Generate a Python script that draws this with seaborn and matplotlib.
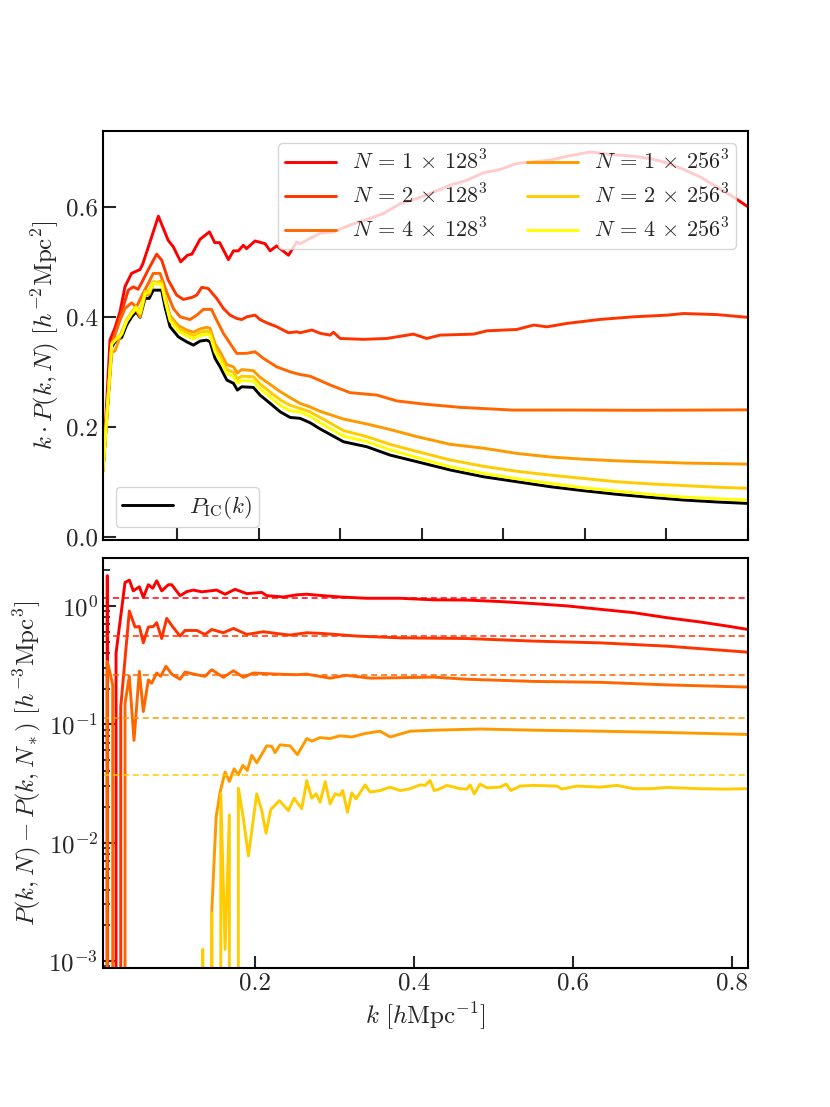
import numpy as np
import pandas as pd
import matplotlib
matplotlib.use("Agg")
import matplotlib.pyplot as plt
import seaborn as sns

sns.set_style("ticks")
plt.rcParams['font.family'] = 'serif'
plt.rcParams['font.serif'] = ['cmr10']
plt.rcParams['mathtext.fontset'] = 'cm'
plt.rcParams['axes.formatter.use_mathtext'] = True
plt.rcParams['axes.unicode_minus'] = False

# ---------------- data: top panel  k * P(k, N) ----------------
labels = [r"$N \,=\, 1 \,\times\, 128^3$", r"$N \,=\, 2 \,\times\, 128^3$", r"$N \,=\, 4 \,\times\, 128^3$",
          r"$N \,=\, 1 \,\times\, 256^3$", r"$N \,=\, 2 \,\times\, 256^3$", r"$N \,=\, 4 \,\times\, 256^3$"]
colors = ['#ff0000', '#ff3300', '#ff6600', '#ff9900', '#ffcc00', '#ffff00']
ic_label = r"$P_{\rm IC}(k)$"

k_grid = [0.009, 0.0197, 0.0237, 0.0319, 0.038, 0.0442, 0.0495, 0.0544, 0.0605, 0.0657,
          0.0706, 0.0809, 0.085, 0.0912, 0.1014, 0.1116, 0.1198, 0.128, 0.1362, 0.1403,
          0.1464, 0.1526, 0.1608, 0.169, 0.1738, 0.1792, 0.1934, 0.2016, 0.214, 0.2262,
          0.2384, 0.2507, 0.263, 0.2753, 0.304, 0.3326, 0.361, 0.394, 0.435, 0.4757,
          0.5166, 0.5575, 0.598, 0.639, 0.680, 0.721, 0.762, 0.80]
kp_ic = [0.12, 0.345, 0.3545, 0.3625, 0.385, 0.400, 0.409, 0.399, 0.4335, 0.4335,
         0.4485, 0.4485, 0.418, 0.382, 0.3636, 0.3545, 0.3485, 0.3558, 0.3576, 0.3545,
         0.3244, 0.309, 0.285, 0.279, 0.2667, 0.2727, 0.2716, 0.2576, 0.2425, 0.2273,
         0.217, 0.2153, 0.2073, 0.196, 0.1727, 0.1636, 0.1485, 0.1364, 0.1213, 0.109,
         0.100, 0.0909, 0.0837, 0.0771, 0.0716, 0.0667, 0.0631, 0.0605]
kp_4x256 = [0.12, 0.350, 0.357, 0.368, 0.392, 0.406, 0.416, 0.406, 0.442, 0.445,
            0.461, 0.459, 0.430, 0.393, 0.374, 0.365, 0.360, 0.366, 0.368, 0.366,
            0.336, 0.321, 0.297, 0.291, 0.279, 0.284, 0.283, 0.269, 0.254, 0.239,
            0.229, 0.227, 0.219, 0.207, 0.183, 0.173, 0.158, 0.144, 0.127, 0.115,
            0.1055, 0.097, 0.089, 0.083, 0.077, 0.072, 0.069, 0.0667]
kp_2x256 = [0.12, 0.352, 0.358, 0.370, 0.395, 0.409, 0.419, 0.409, 0.446, 0.448,
            0.464, 0.462, 0.434, 0.398, 0.379, 0.371, 0.366, 0.372, 0.374, 0.372,
            0.343, 0.328, 0.304, 0.299, 0.287, 0.292, 0.291, 0.278, 0.263, 0.249,
            0.239, 0.2334, 0.227, 0.217, 0.193, 0.182, 0.168, 0.155, 0.1395, 0.128,
            0.119, 0.112, 0.106, 0.100, 0.096, 0.093, 0.090, 0.088]
kp_1x256 = [0.12, 0.335, 0.338, 0.372, 0.392, 0.405, 0.414, 0.400, 0.438, 0.441,
            0.460, 0.465, 0.437, 0.402, 0.384, 0.376, 0.372, 0.378, 0.381, 0.379,
            0.351, 0.336, 0.313, 0.309, 0.298, 0.304, 0.302, 0.290, 0.277, 0.264,
            0.253, 0.2425, 0.236, 0.228, 0.214, 0.205, 0.195, 0.182, 0.168, 0.161,
            0.1515, 0.145, 0.141, 0.138, 0.136, 0.134, 0.133, 0.132]

k_4x128 = [0.009, 0.0197, 0.0299, 0.036, 0.044, 0.050, 0.058, 0.0646, 0.0706, 0.079,
           0.087, 0.0953, 0.1035, 0.1157, 0.1240, 0.132, 0.142, 0.1484, 0.1566, 0.1648,
           0.173, 0.185, 0.1955, 0.2057, 0.222, 0.2384, 0.2507, 0.263, 0.2875, 0.312,
           0.345, 0.3694, 0.402, 0.447, 0.512, 0.578, 0.6597, 0.7415, 0.80]
kp_4x128 = [0.12, 0.350, 0.394, 0.415, 0.4255, 0.418, 0.4425, 0.461, 0.479, 0.479,
            0.4455, 0.415, 0.400, 0.395, 0.403, 0.4135, 0.4135, 0.394, 0.370, 0.3516,
            0.3335, 0.3335, 0.3364, 0.3244, 0.309, 0.300, 0.295, 0.292, 0.276, 0.262,
            0.2576, 0.247, 0.2413, 0.2353, 0.2303, 0.2304, 0.230, 0.2303, 0.2308]

k_2x128 = [0.009, 0.0197, 0.0299, 0.040, 0.0462, 0.052, 0.056, 0.0646, 0.0748, 0.081,
           0.089, 0.0993, 0.1075, 0.118, 0.124, 0.130, 0.138, 0.1484, 0.1566, 0.1648,
           0.169, 0.173, 0.1792, 0.1853, 0.1955, 0.2016, 0.210, 0.222, 0.2364, 0.2466,
           0.2507, 0.2651, 0.2753, 0.2875, 0.2916, 0.2998, 0.3284, 0.357, 0.3897, 0.406,
           0.4225, 0.4634, 0.4798, 0.5166, 0.537, 0.5534, 0.578, 0.619, 0.6597, 0.7006,
           0.721, 0.762, 0.80]
kp_2x128 = [0.12, 0.352, 0.40, 0.4485, 0.4545, 0.450, 0.461, 0.486, 0.514, 0.503,
            0.4667, 0.4395, 0.4316, 0.4353, 0.4395, 0.4535, 0.4516, 0.4335, 0.4153, 0.403,
            0.400, 0.397, 0.395, 0.400, 0.403, 0.395, 0.389, 0.382, 0.371, 0.3727,
            0.371, 0.376, 0.370, 0.3667, 0.372, 0.3606, 0.359, 0.3606, 0.3685, 0.3606,
            0.3667, 0.3685, 0.3745, 0.377, 0.385, 0.3818, 0.388, 0.3953, 0.400, 0.403,
            0.406, 0.404, 0.399]

k_1x128 = [0.009, 0.0176, 0.0237, 0.030, 0.036, 0.044, 0.0544, 0.058, 0.0769, 0.089,
           0.0953, 0.1043, 0.1125, 0.118, 0.128, 0.1395, 0.146, 0.152, 0.1628, 0.169,
           0.175, 0.181, 0.185, 0.1955, 0.2078, 0.214, 0.222, 0.2364, 0.2466, 0.2507,
           0.275, 0.2916, 0.312, 0.3326, 0.353, 0.3735, 0.394, 0.4146, 0.435, 0.4553,
           0.4757, 0.496, 0.5166, 0.537, 0.5575, 0.578, 0.6066, 0.627, 0.6597, 0.680,
           0.7006, 0.721, 0.7415, 0.762, 0.782, 0.80]
kp_1x128 = [0.12, 0.358, 0.38, 0.41, 0.455, 0.479, 0.486, 0.497, 0.583, 0.539,
            0.527, 0.500, 0.512, 0.514, 0.541, 0.5545, 0.535, 0.535, 0.504, 0.520,
            0.520, 0.530, 0.524, 0.538, 0.533, 0.520, 0.529, 0.512, 0.536, 0.533,
            0.552, 0.5545, 0.567, 0.577, 0.588, 0.606, 0.615, 0.627, 0.6395, 0.6485,
            0.662, 0.668, 0.679, 0.682, 0.685, 0.692, 0.700, 0.696, 0.692, 0.688,
            0.680, 0.668, 0.6545, 0.636, 0.618, 0.600]

# ---------------- data: bottom panel  P(k,N) - P(k,N_*) ----------------
# negative values (below zero) fall off the log axis
k_d1 = [0.009, 0.0144, 0.020, 0.0254, 0.0367, 0.0421, 0.0471, 0.0547, 0.0597, 0.066,
        0.0715, 0.0765, 0.0828, 0.0912, 0.0954, 0.1059, 0.1143, 0.1226, 0.1332, 0.152,
        0.1625, 0.175, 0.1898, 0.2086, 0.215, 0.236, 0.2526, 0.265, 0.286, 0.307,
        0.3407, 0.3826, 0.4245, 0.4665, 0.5084, 0.5503, 0.5923, 0.634, 0.676, 0.718,
        0.760, 0.7935, 0.82]
d1 = [-0.5, 1.8, -0.5, 0.40, 1.58, 1.65, 1.34, 1.45, 1.18, 1.51,
      1.41, 1.63, 1.34, 1.51, 1.51, 1.22, 1.32, 1.36, 1.315, 1.36,
      1.255, 1.38, 1.27, 1.30, 1.22, 1.19, 1.24, 1.255, 1.22, 1.19,
      1.16, 1.16, 1.125, 1.12, 1.088, 1.046, 1.0, 0.936, 0.877, 0.795,
      0.731, 0.676, 0.632]

k_d2 = [0.009, 0.0144, 0.020, 0.0257, 0.0313, 0.0421, 0.0493, 0.0547, 0.0597, 0.066,
        0.0723, 0.0765, 0.0828, 0.0891, 0.0975, 0.1059, 0.1121, 0.1269, 0.1373, 0.1457,
        0.1603, 0.173, 0.1898, 0.2106, 0.2275, 0.2442, 0.265, 0.286, 0.328, 0.3826,
        0.4665, 0.5503, 0.634, 0.718, 0.82]
d2 = [-0.5, -0.5, -0.5, -0.5, 0.14, 0.906, 0.663, 0.67, 0.487, 0.663,
      0.67, 0.721, 0.53, 0.785, 0.654, 0.556, 0.62, 0.62, 0.574, 0.632,
      0.593, 0.645, 0.574, 0.605, 0.584, 0.567, 0.593, 0.584, 0.556, 0.537,
      0.53, 0.504, 0.487, 0.457, 0.406]

k_d3 = [0.009, 0.0144, 0.0212, 0.026, 0.031, 0.0367, 0.0421, 0.048, 0.0547, 0.0597,
        0.066, 0.0702, 0.0765, 0.0816, 0.0882, 0.0954, 0.1059, 0.1121, 0.1269, 0.1373,
        0.1457, 0.1603, 0.173, 0.1855, 0.198, 0.2275, 0.2526, 0.265, 0.2944, 0.315,
        0.345, 0.4245, 0.4665, 0.5503, 0.634, 0.718, 0.82]
d3 = [-0.5, 0.34, 0.215, -0.5, -0.5, 0.15, 0.254, 0.073, 0.28, 0.128,
      0.237, 0.222, 0.271, 0.254, 0.309, 0.265, 0.24, 0.276, 0.262, 0.254,
      0.289, 0.249, 0.283, 0.249, 0.271, 0.265, 0.262, 0.265, 0.245, 0.259,
      0.245, 0.25, 0.24, 0.23, 0.226, 0.215, 0.206]

k_d4 = [0.009, 0.1378, 0.1457, 0.1512, 0.1562, 0.1625, 0.1679, 0.1738, 0.1792, 0.1848,
        0.1905, 0.1961, 0.2023, 0.2149, 0.2212, 0.2254, 0.2316, 0.2442, 0.2534, 0.2652,
        0.2715, 0.282, 0.2945, 0.3068, 0.3218, 0.3386, 0.3574, 0.37, 0.3952, 0.4254,
        0.4832, 0.5503, 0.634, 0.718, 0.82]
d4 = [-0.01, -0.01, 0.00254, 0.0163, 0.0267, 0.0394, 0.0328, 0.042, 0.0374, 0.0449,
      0.0407, 0.0546, 0.0472, 0.0656, 0.065, 0.0575, 0.067, 0.0656, 0.0553, 0.0757,
      0.072, 0.077, 0.0757, 0.0798, 0.078, 0.0835, 0.0873, 0.078, 0.0873, 0.089,
      0.0911, 0.089, 0.0873, 0.0851, 0.0819]

k_d5 = [0.009, 0.128, 0.1344, 0.1403, 0.1457, 0.1512, 0.1571, 0.1625, 0.1679, 0.1738,
        0.1792, 0.1855, 0.1918, 0.2023, 0.2086, 0.214, 0.2199, 0.2308, 0.2421, 0.2493,
        0.2589, 0.2652, 0.2715, 0.2769, 0.282, 0.2883, 0.2945, 0.3008, 0.307, 0.3105,
        0.3163, 0.3218, 0.3272, 0.3386, 0.3448, 0.3574, 0.37, 0.3826, 0.3952, 0.4077,
        0.414, 0.4203, 0.4254, 0.4329, 0.4413, 0.458, 0.4665, 0.4706, 0.4757, 0.4832,
        0.4916, 0.5084, 0.516, 0.5218, 0.5335, 0.5503, 0.5797, 0.586, 0.6049, 0.634,
        0.655, 0.676, 0.697, 0.718, 0.760, 0.7893, 0.82]
d5 = [-0.01, -0.01, 0.00125, -0.01, 0.00254, -0.01, 0.0258, 0.00125, 0.0171, -0.01,
      0.0288, 0.016, 0.0077, 0.0258, 0.0186, 0.012, 0.019, 0.0226, 0.0186, 0.0237,
      0.0193, 0.0334, 0.0237, 0.0258, 0.0219, 0.0327, 0.0212, 0.0258, 0.025, 0.0275,
      0.018, 0.0263, 0.0234, 0.0307, 0.0267, 0.0275, 0.0294, 0.0275, 0.0285, 0.0307,
      0.0304, 0.0334, 0.0275, 0.0285, 0.0304, 0.0285, 0.0283, 0.0307, 0.0258, 0.0312,
      0.029, 0.0294, 0.0312, 0.0275, 0.030, 0.0304, 0.030, 0.0283, 0.030, 0.0294,
      0.0304, 0.0285, 0.0285, 0.0292, 0.0285, 0.0283, 0.0285]

shot_noise_diff = [1.16, 0.561, 0.262, 0.112, 0.0374]

top_series = [(k_1x128, kp_1x128), (k_2x128, kp_2x128), (k_4x128, kp_4x128),
              (k_grid, kp_1x256), (k_grid, kp_2x256), (k_grid, kp_4x256)]
bottom_series = [(k_d1, d1), (k_d2, d2), (k_d3, d3), (k_d4, d4), (k_d5, d5)]

# ---------------- figure ----------------
W, H = 830, 1107
fig = plt.figure(figsize=(W / 100, H / 100), dpi=100)
ax1 = fig.add_axes([103 / W, 1 - 540 / H, 645 / W, 409 / H])
ax2 = fig.add_axes([103 / W, 1 - 968 / H, 645 / W, 410 / H])

FS = 18
LW = 2.1

sns.lineplot(x=k_grid, y=kp_ic, ax=ax1, color='black', lw=LW, estimator=None, sort=False)
for (kk, vv), c in zip(top_series, colors):
    sns.lineplot(x=kk, y=vv, ax=ax1, color=c, lw=LW, estimator=None, sort=False)

for (kk, vv), c in zip(bottom_series, colors):
    sns.lineplot(x=kk, y=vv, ax=ax2, color=c, lw=LW, estimator=None, sort=False)
for s, c in zip(shot_noise_diff, colors):
    ax2.axhline(s, color=c, lw=1.1, ls='--', dashes=(4, 2.5))
ax2.set_yscale('log')

lines = ax1.get_lines()
ic_line = lines[0]
n_lines = lines[1:7]
leg1 = ax1.legend(n_lines, labels, loc='upper right', ncol=2, fontsize=16,
                  handlelength=2.3, handletextpad=0.7, columnspacing=1.8,
                  borderaxespad=0.55, labelspacing=0.45, borderpad=0.3)
ax1.add_artist(leg1)
ax1.legend([ic_line], [ic_label], loc='lower left', fontsize=16.5, handlelength=2.2,
           handletextpad=0.7, borderaxespad=0.55, borderpad=0.3)

ax1.set_xlim(0.009, 0.80)
ax1.set_ylim(-0.006, 0.738)
ax1.set_xticks(np.arange(0.1, 0.85, 0.1))
ax1.set_yticks([0.0, 0.2, 0.4, 0.6])
ax1.set_yticklabels(['0.0', '0.2', '0.4', '0.6'])
ax1.tick_params(axis='x', labelbottom=False)
ax1.set_ylabel(r"$k \cdot P(k,N)\ [h^{-2}{\rm Mpc}^2]$", fontsize=FS)

ax2.set_xlim(0.009, 0.82)
ax2.set_ylim(8.7e-4, 2.54)
ax2.set_xticks([0.2, 0.4, 0.6, 0.8])
ax2.set_xticklabels(['0.2', '0.4', '0.6', '0.8'])
ax2.set_xlabel(r"$k\ [h{\rm Mpc}^{-1}]$", fontsize=FS)
ax2.set_ylabel(r"$P(k,N) - P(k,N_*)\ [h^{-3}{\rm Mpc}^3]$", fontsize=FS)

for ax in (ax1, ax2):
    ax.tick_params(which='major', direction='in', length=9, width=1.5, labelsize=FS,
                   top=False, right=False)
    ax.tick_params(which='minor', direction='in', length=5, width=1.3, top=False, right=False)
    for sp in ax.spines.values():
        sp.set_linewidth(1.5)
        sp.set_color('black')
ax2.tick_params(axis='x', which='minor', bottom=False)

fig.savefig("out.png", dpi=100)
